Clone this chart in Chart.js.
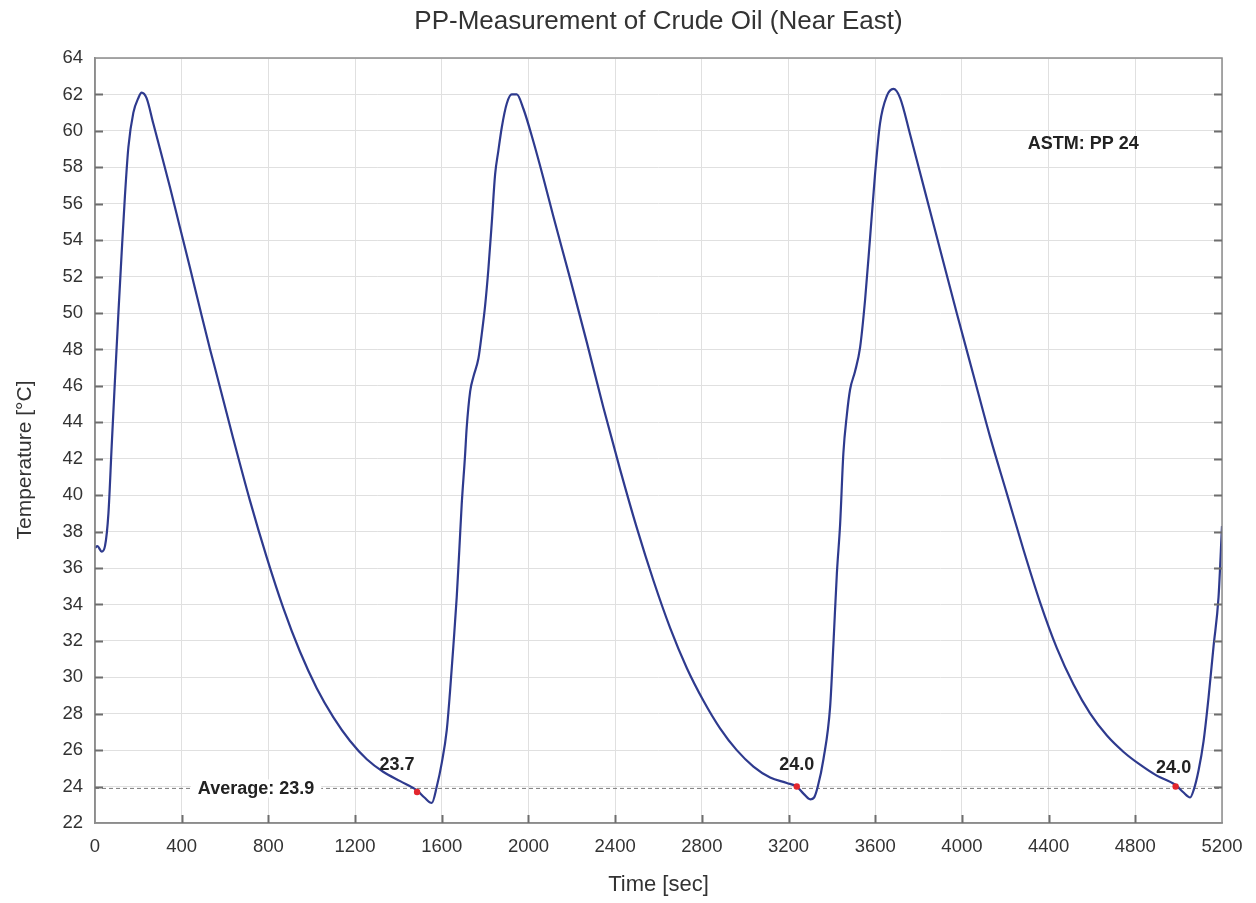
<!DOCTYPE html>
<html>
<head>
<meta charset="utf-8">
<title>PP-Measurement of Crude Oil (Near East)</title>
<script src="https://cdn.jsdelivr.net/npm/chart.js@4.4.1/dist/chart.umd.min.js"></script>
<style>
	html, body { margin: 0; padding: 0; background: #fff; }
	#wrap { width: 1256px; height: 903px; }
</style>
</head>
<body>
<div id="wrap"><canvas id="chart"></canvas></div>
<script>
// #region Data
const chartTitle = `PP-Measurement of Crude Oil (Near East)`;
const xTitle = `Time [sec]`;
const yTitle = `Temperature [°C]`;

const timeSec = [
	0, 11, 31, 46, 62, 77, 92, 108, 123, 138, 154, 177, 200, 215, 238, 269, 300,
	346, 392, 438, 485, 531, 562, 638, 715, 792, 869, 946, 1023, 1100, 1177,
	1254, 1331, 1408, 1485, 1520, 1554, 1577, 1600, 1623, 1638, 1654, 1669,
	1681, 1692, 1707, 1715, 1731, 1746, 1769, 1784, 1800, 1815, 1831, 1846,
	1861, 1877, 1900, 1923, 1946, 1977, 2023, 2069, 2115, 2192, 2269, 2346,
	2423, 2500, 2577, 2654, 2731, 2808, 2884, 2961, 3038, 3115, 3192, 3238,
	3270, 3300, 3318, 3335, 3361, 3392, 3407, 3423, 3438, 3453, 3469, 3484,
	3507, 3530, 3553, 3576, 3599, 3622, 3653, 3684, 3715, 3761, 3807, 3853,
	3899, 3976, 4053, 4130, 4207, 4284, 4361, 4438, 4515, 4592, 4669, 4746,
	4822, 4899, 4984, 5020, 5053, 5069, 5092, 5115, 5138, 5161, 5184, 5200,
];

const tempC = [
	37.1, 37.2, 36.9, 37.2, 39.0, 42.7, 46.3, 50.0, 53.3, 56.4, 59.1, 61.0, 61.8, 62.1, 61.8, 60.4, 59.0,
	56.9, 54.7, 52.5, 50.2, 48.0, 46.6, 43.1, 39.7, 36.6, 33.8, 31.4, 29.4, 27.8, 26.5,
	25.5, 24.8, 24.3, 23.8, 23.4, 23.1, 24.0, 25.3, 27.1, 29.2, 31.8, 34.4,
	37.0, 39.5, 42.1, 43.7, 45.7, 46.5, 47.5, 48.8, 50.4, 52.4, 55.0, 57.6,
	58.9, 60.2, 61.5, 62.0, 62.0, 61.2, 59.4, 57.4, 55.3, 51.9, 48.4, 44.8,
	41.4, 38.2, 35.3, 32.7, 30.5, 28.7, 27.2, 26.0, 25.1, 24.5, 24.2, 24.0,
	23.6, 23.3, 23.4, 24.0, 25.5, 28.4, 31.8, 35.7, 38.4, 42.3, 44.4, 45.8,
	46.8, 48.1, 50.7, 54.1, 57.6, 60.4, 61.9, 62.3, 61.8, 59.8, 57.7, 55.6,
	53.5, 50.0, 46.6, 43.2, 40.1, 37.0, 34.1, 31.6, 29.6, 28.0, 26.8, 25.9,
	25.2, 24.6, 24.1, 23.7, 23.4, 23.8, 24.9, 26.5, 28.9, 31.7, 34.4, 38.3,
];

// pour point readings of each cycle
const minTimes = [1486, 3238, 4986];
const minTemps = [23.7, 24.0, 24.0];
const minLabels = [`23.7`, `24.0`, `24.0`];

const averageTemp = 23.9;
const averageLabel = `Average: 23.9`;
const astmLabel = `ASTM: PP 24`;

const xTicks = { min: 0, max: 5200, step: 400 };
const yTicks = { min: 22, max: 64, step: 2 };
// #endregion

// #region Look
const fontFamily = `"Liberation Sans", Arial, sans-serif`;
const lineColor = `#2e3a8e`;
const dotColor = `#e3262d`;
const frameColor = `#8c8c8c`;
const gridColor = `#e0e0e0`;
const textColor = `#333333`;

// pixel offsets of the value labels from their red dots
const minLabelOffsets = [[-20, -27], [0, -22], [-2, -19]];
// where the two free labels sit, in data units
const averageLabelAt = 743;
const astmLabelAt = [4560, 59.3];
// axis title of y sits a little below the middle of the plot
const yTitlePos = [25, 460];
// #endregion

const curve = timeSec.map((t, i) => ({ x: t, y: tempC[i] }));
const dots = minTimes.map((t, i) => ({ x: t, y: minTemps[i] }));
const average = [
	{ x: xTicks.min, y: averageTemp },
	{ x: xTicks.max, y: averageTemp },
];

const plainNumber = (v) => String(v);

const decorations = {
	id: `decorations`,
	afterDatasetsDraw(chart) {
		const { ctx, chartArea: area, scales: { x, y } } = chart;
		ctx.save();

		// frame round the plot
		ctx.strokeStyle = frameColor;
		ctx.lineWidth = 1.5;
		ctx.strokeRect(area.left, area.top, area.right - area.left, area.bottom - area.top);

		// short inner ticks
		ctx.strokeStyle = `#6e6e6e`;
		ctx.lineWidth = 2;
		ctx.beginPath();
		for (let v = yTicks.min + yTicks.step; v < yTicks.max; v += yTicks.step) {
			const py = Math.round(y.getPixelForValue(v)) + 0.5;
			ctx.moveTo(area.left, py);
			ctx.lineTo(area.left + 8, py);
			ctx.moveTo(area.right, py);
			ctx.lineTo(area.right - 8, py);
		};
		for (let v = xTicks.min + xTicks.step; v < xTicks.max; v += xTicks.step) {
			const px = Math.round(x.getPixelForValue(v)) + 0.5;
			ctx.moveTo(px, area.bottom);
			ctx.lineTo(px, area.bottom - 8);
		};
		ctx.stroke();

		ctx.textAlign = `center`;
		ctx.textBaseline = `middle`;

		// chart title, centred over the plot
		ctx.fillStyle = textColor;
		ctx.font = `26px ${fontFamily}`;
		ctx.fillText(chartTitle, (area.left + area.right) / 2, 22);

		// y axis title
		ctx.save();
		ctx.translate(yTitlePos[0], yTitlePos[1]);
		ctx.rotate(-Math.PI / 2);
		ctx.font = `21px ${fontFamily}`;
		ctx.fillText(yTitle, 0, 0);
		ctx.restore();

		ctx.fillStyle = `#222`;
		ctx.font = `bold 18px ${fontFamily}`;

		// average label with a gap in the dashed line
		const ax = x.getPixelForValue(averageLabelAt);
		const ay = y.getPixelForValue(averageTemp);
		const aw = ctx.measureText(averageLabel).width;
		ctx.fillStyle = `#fff`;
		ctx.fillRect(ax - aw / 2 - 7, ay - 9, aw + 14, 18);
		ctx.fillStyle = `#222`;
		ctx.fillText(averageLabel, ax, ay + 1);

		minLabels.forEach((label, i) => {
			const [dx, dy] = minLabelOffsets[i];
			ctx.fillText(
				label,
				x.getPixelForValue(minTimes[i]) + dx,
				y.getPixelForValue(minTemps[i]) + dy,
			);
		});

		ctx.fillText(astmLabel, x.getPixelForValue(astmLabelAt[0]), y.getPixelForValue(astmLabelAt[1]));

		ctx.restore();
	},
};

Chart.defaults.font.family = fontFamily;
Chart.defaults.color = textColor;

new Chart(document.getElementById(`chart`), {
	type: `line`,
	data: {
		datasets: [
			{
				label: `Pour point`,
				data: dots,
				showLine: false,
				pointRadius: 3.2,
				pointBackgroundColor: dotColor,
				pointBorderWidth: 0,
			},
			{
				label: `Temperature`,
				data: curve,
				borderColor: lineColor,
				borderWidth: 2.2,
				pointRadius: 0,
				cubicInterpolationMode: `monotone`,
			},
			{
				label: `Average`,
				data: average,
				borderColor: `#7a7a7a`,
				borderWidth: 1,
				borderDash: [4, 3],
				pointRadius: 0,
			},
		],
	},
	options: {
		responsive: true,
		maintainAspectRatio: false,
		animation: false,
		layout: {
			padding: { top: 58, right: 34, bottom: 0, left: 0 },
		},
		plugins: {
			legend: { display: false },
			tooltip: { enabled: false },
		},
		scales: {
			x: {
				type: `linear`,
				min: xTicks.min,
				max: xTicks.max,
				afterFit(scale) { scale.height = 80; },
				ticks: {
					stepSize: xTicks.step,
					padding: 13,
					font: { size: 18.5 },
					color: textColor,
					callback: plainNumber,
				},
				grid: { color: gridColor, drawTicks: false },
				border: { display: true, color: frameColor, width: 1.5 },
				title: {
					display: true,
					text: xTitle,
					font: { size: 22 },
					color: textColor,
					padding: { top: 0, bottom: 5 },
				},
			},
			y: {
				type: `linear`,
				min: yTicks.min,
				max: yTicks.max,
				afterFit(scale) { scale.width = 95; },
				ticks: {
					stepSize: yTicks.step,
					padding: 12,
					font: { size: 18.5 },
					color: textColor,
					callback: plainNumber,
				},
				grid: { color: gridColor, drawTicks: false },
				border: { display: true, color: frameColor, width: 1.5 },
			},
		},
	},
	plugins: [decorations],
});
</script>
</body>
</html>
